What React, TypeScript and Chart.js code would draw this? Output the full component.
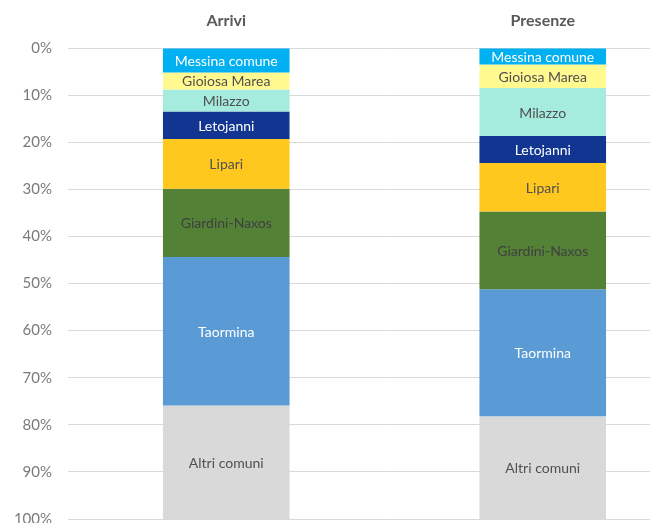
import React, { useEffect, useRef } from "react";
import { Chart, registerables } from "chart.js";

Chart.register(...registerables);

const categories = ["Arrivi", "Presenze"];
const seriesNames = [
  "Messina comune",
  "Gioiosa Marea",
  "Milazzo",
  "Letojanni",
  "Lipari",
  "Giardini-Naxos",
  "Taormina",
  "Altri comuni",
];
const messina = [5.2, 3.5];
const gioiosa = [3.6, 5.0];
const milazzo = [4.7, 10.2];
const letojanni = [5.8, 5.7];
const lipari = [10.6, 10.3];
const giardini = [14.5, 16.5];
const taormina = [31.5, 27.0];
const altri = [24.1, 21.8];
const seriesValues = [messina, gioiosa, milazzo, letojanni, lipari, giardini, taormina, altri];
const colors = ["#00B0F0", "#FFF98F", "#A5EBDE", "#123591", "#FFC81F", "#538135", "#5B9BD5", "#D9D9D9"];
const labelColors = ["#FFFFFF", "#505050", "#505050", "#FFFFFF", "#505050", "#404040", "#FFFFFF", "#505050"];

const segmentLabels = {
  id: "segmentLabels",
  afterDatasetsDraw(chart: any) {
    const ctx = chart.ctx;
    ctx.save();
    ctx.font = "14px Lato";
    ctx.textAlign = "center";
    ctx.textBaseline = "middle";
    chart.data.datasets.forEach((ds: any, i: number) => {
      const meta = chart.getDatasetMeta(i);
      meta.data.forEach((bar: any) => {
        const y = (bar.y + bar.base) / 2;
        ctx.fillStyle = labelColors[i];
        ctx.fillText(ds.label, bar.x, y + 1);
      });
    });
    ctx.restore();
  },
};

export default function App() {
  const ref = useRef<HTMLCanvasElement>(null);
  useEffect(() => {
    if (!ref.current) return;
    const chart = new Chart(ref.current, {
      type: "bar",
      data: {
        labels: categories,
        datasets: seriesNames.map((name, i) => ({
          label: name,
          data: seriesValues[i],
          backgroundColor: colors[i],
          borderWidth: 0,
          barPercentage: 0.4,
          categoryPercentage: 1,
        })),
      },
      options: {
        responsive: false,
        animation: false,
        devicePixelRatio: 1,
        layout: { padding: { top: 0, bottom: 4, left: 0, right: 0 } },
        plugins: { legend: { display: false }, tooltip: { enabled: false } },
        scales: {
          x: {
            position: "top",
            stacked: true,
            grid: { display: false, drawTicks: false },
            border: { display: false },
            ticks: { color: "#595959", font: { family: "Lato", size: 16, weight: "bold" }, padding: 18 },
            afterFit: (s: any) => {
              s.height = 48;
            },
          },
          y: {
            stacked: true,
            reverse: true,
            min: 0,
            max: 100,
            grid: { color: "#D9D9D9", drawTicks: false, lineWidth: 1 },
            border: { display: false },
            ticks: {
              stepSize: 10,
              color: "#7A7A7A",
              font: { family: "Lato", size: 15 },
              padding: 16,
              callback: (v: any) => `${v}%`,
            },
            afterFit: (s: any) => {
              s.width = 68;
              s.paddingTop = 0;
              s.paddingBottom = 0;
            },
          },
        },
      },
      plugins: [segmentLabels],
    });
    return () => chart.destroy();
  }, []);
  return (
    <div style={{ position: "absolute", left: 0, top: 0, width: 650, height: 523, overflow: "hidden", background: "#fff" }}>
      <canvas ref={ref} width={701} height={523} style={{ display: "block" }} />
    </div>
  );
}
